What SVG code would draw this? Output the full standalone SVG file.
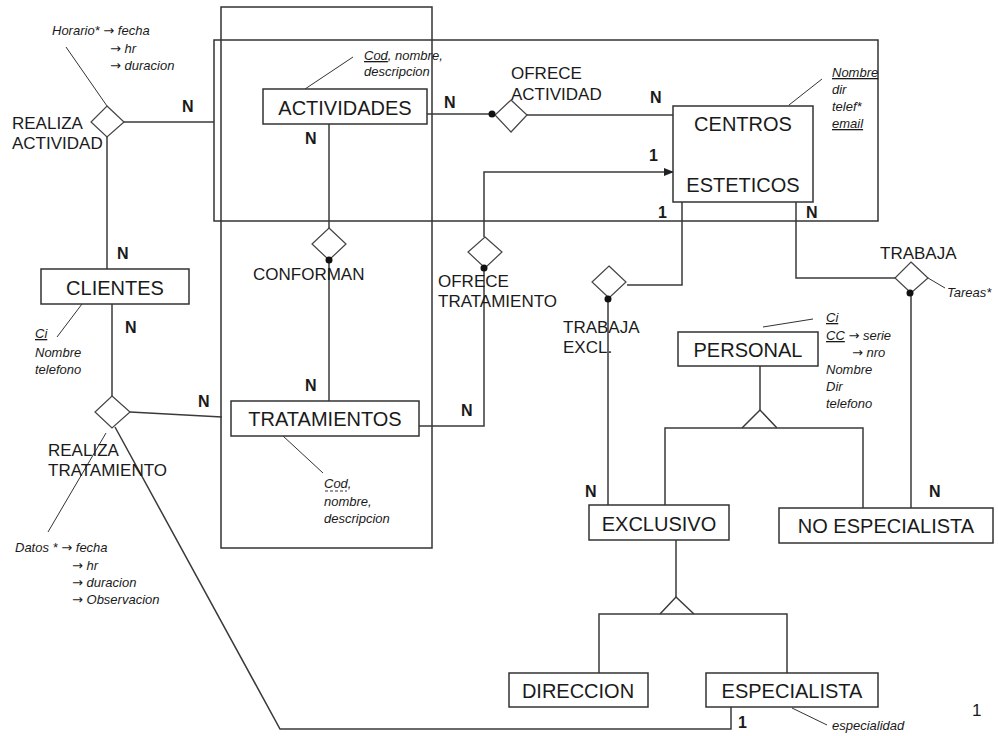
<svg xmlns="http://www.w3.org/2000/svg" width="998" height="736" viewBox="0 0 998 736">
<defs>
<style>
.bg{fill:#fff}
.box{fill:#fff;stroke:#333;stroke-width:1.5}
.frame{fill:none;stroke:#333;stroke-width:1.5}
.ln{fill:none;stroke:#3a3a3a;stroke-width:1.5}
.an{fill:none;stroke:#333;stroke-width:1}
.dia{fill:#fff;stroke:#444;stroke-width:1.2}
.dot{fill:#111}
text{font-family:"Liberation Sans",Arial,Helvetica,sans-serif;fill:#1a1a1a}
.en{font-size:20px;text-anchor:middle}
.rel{font-size:17px}
.att{font-size:13px;font-style:italic}
.ar{font-family:"DejaVu Sans",sans-serif;font-size:13px;font-style:normal}
.card{font-size:16px;font-weight:bold}
.u{text-decoration:underline}
</style>
<marker id="arr" markerWidth="10" markerHeight="8" refX="9" refY="4" orient="auto" markerUnits="userSpaceOnUse">
<path d="M0,0 L10,4 L0,8 z" fill="#222"/>
</marker>
</defs>
<rect class="bg" width="998" height="736"/>

<g id="frames">
<rect class="frame" x="221" y="7" width="211" height="541"/>
<rect class="frame" x="214" y="40" width="664" height="181"/>
</g>

<g id="connectors">
<line class="ln" x1="124" y1="122" x2="214" y2="122"/>
<line class="ln" x1="107" y1="137" x2="107" y2="269"/>
<line class="ln" x1="427" y1="114" x2="495" y2="114"/>
<line class="ln" x1="527" y1="115" x2="673" y2="115"/>
<line class="ln" x1="329" y1="124" x2="329" y2="228"/>
<line class="ln" x1="329" y1="260" x2="329" y2="401"/>
<polyline class="ln" points="484,237 484,172 673,172" marker-end="url(#arr)"/>
<polyline class="ln" points="484,268 484,426 419,426"/>
<polyline class="ln" points="682,202 682,285 627,285"/>
<line class="ln" x1="608" y1="299" x2="608" y2="505"/>
<polyline class="ln" points="796,202 796,278 895,278"/>
<line class="ln" x1="911" y1="293" x2="911" y2="508"/>
<line class="ln" x1="112" y1="304" x2="112" y2="396"/>
<line class="ln" x1="130" y1="412" x2="222" y2="417"/>
<polyline class="ln" points="115,427 280,729 731,729 731,707"/>
<line class="ln" x1="760" y1="366" x2="760" y2="410"/>
<polyline class="ln" points="742,428 760,410 777,428"/>
<polyline class="ln" points="665,505 665,428 863,428 863,508"/>
<line class="ln" x1="676" y1="540" x2="676" y2="597"/>
<polyline class="ln" points="660,614 676,597 694,614"/>
<polyline class="ln" points="599,673 599,614 787,614 787,673"/>
<line class="an" x1="66" y1="47" x2="107" y2="106"/>
<line class="an" x1="305" y1="89" x2="353" y2="57"/>
<line class="an" x1="789" y1="105" x2="822" y2="79"/>
<line class="an" x1="82" y1="304" x2="57" y2="337"/>
<line class="an" x1="283" y1="436" x2="323" y2="473"/>
<line class="an" x1="106" y1="433" x2="48" y2="532"/>
<line class="an" x1="763" y1="327" x2="813" y2="319"/>
<line class="an" x1="928" y1="278" x2="945" y2="288"/>
<line class="an" x1="792" y1="708" x2="827" y2="725"/>
</g>

<g id="realiza-actividad">
<polygon class="dia" points="107,106 124,122 107,137 91,122"/>
<text class="rel" x="12" y="129">REALIZA</text>
<text class="rel" x="12" y="149">ACTIVIDAD</text>
<text class="att" x="52" y="35">Horario* <tspan class="ar">→</tspan> fecha</text>
<text class="att" x="110" y="53"><tspan class="ar">→</tspan> hr</text>
<text class="att" x="110" y="70"><tspan class="ar">→</tspan> duracion</text>
</g>

<g id="actividades">
<rect class="box" x="263" y="89" width="164" height="35"/>
<text class="en" x="345" y="115">ACTIVIDADES</text>
<text class="att" x="364" y="60"><tspan class="u">Cod</tspan>, nombre,</text>
<text class="att" x="364" y="76">descripcion</text>
</g>

<g id="ofrece-actividad">
<polygon class="dia" points="511,100 527,115 511,132 495,115"/>
<circle class="dot" cx="492" cy="114" r="3.5"/>
<text class="rel" x="511" y="79">OFRECE</text>
<text class="rel" x="511" y="100">ACTIVIDAD</text>
</g>

<g id="centros-esteticos">
<rect class="box" x="673" y="106" width="140" height="96"/>
<text class="en" x="743" y="131">CENTROS</text>
<text class="en" x="743" y="192">ESTETICOS</text>
<text class="att" x="832" y="77"><tspan class="u">Nombre</tspan></text>
<text class="att" x="832" y="94">dir</text>
<text class="att" x="832" y="111">telef*</text>
<text class="att" x="832" y="128"><tspan class="u">email</tspan></text>
</g>

<g id="conforman">
<polygon class="dia" points="329,228 346,244 329,260 312,244"/>
<circle class="dot" cx="329" cy="260" r="3.5"/>
<text class="rel" x="253" y="280">CONFORMAN</text>
</g>

<g id="ofrece-tratamiento">
<polygon class="dia" points="485,237 502,252 485,268 468,252"/>
<circle class="dot" cx="484" cy="268" r="3.5"/>
<text class="rel" x="438" y="287">OFRECE</text>
<text class="rel" x="438" y="307">TRATAMIENTO</text>
</g>

<g id="trabaja-excl">
<polygon class="dia" points="609,266 626,282 609,298 592,282"/>
<circle class="dot" cx="608" cy="299" r="3.5"/>
<text class="rel" x="563" y="333">TRABAJA</text>
<text class="rel" x="563" y="353">EXCL.</text>
</g>

<g id="trabaja">
<polygon class="dia" points="911,262 928,278 911,293 895,278"/>
<circle class="dot" cx="910" cy="293" r="3.5"/>
<text class="rel" x="880" y="259">TRABAJA</text>
<text class="att" x="947" y="297">Tareas*</text>
</g>

<g id="clientes">
<rect class="box" x="41" y="269" width="148" height="35"/>
<text class="en" x="115" y="295">CLIENTES</text>
<text class="att" x="35" y="338"><tspan class="u">Ci</tspan></text>
<text class="att" x="35" y="357">Nombre</text>
<text class="att" x="35" y="374">telefono</text>
</g>

<g id="realiza-tratamiento">
<polygon class="dia" points="112,396 130,412 112,428 95,412"/>
<text class="rel" x="48" y="456">REALIZA</text>
<text class="rel" x="48" y="476">TRATAMIENTO</text>
<text class="att" x="15" y="552">Datos * <tspan class="ar">→</tspan> fecha</text>
<text class="att" x="72" y="570"><tspan class="ar">→</tspan> hr</text>
<text class="att" x="72" y="587"><tspan class="ar">→</tspan> duracion</text>
<text class="att" x="72" y="604"><tspan class="ar">→</tspan> Observacion</text>
</g>

<g id="tratamientos">
<rect class="box" x="231" y="401" width="188" height="35"/>
<text class="en" x="325" y="426">TRATAMIENTOS</text>
<text class="att" x="324" y="488">Cod,</text>
<line x1="325" y1="491" x2="347" y2="491" stroke="#333" stroke-width="1" stroke-dasharray="3,2"/>
<text class="att" x="324" y="506">nombre,</text>
<text class="att" x="324" y="523">descripcion</text>
</g>

<g id="personal">
<rect class="box" x="678" y="332" width="140" height="34"/>
<text class="en" x="748" y="357">PERSONAL</text>
<text class="att" x="826" y="322"><tspan class="u">Ci</tspan></text>
<text class="att" x="826" y="340"><tspan class="u">CC</tspan> <tspan class="ar">→</tspan> serie</text>
<text class="att" x="852" y="357"><tspan class="ar">→</tspan> nro</text>
<text class="att" x="826" y="374">Nombre</text>
<text class="att" x="826" y="391">Dir</text>
<text class="att" x="826" y="408">telefono</text>
</g>

<g id="exclusivo">
<rect class="box" x="589" y="505" width="140" height="35"/>
<text class="en" x="659" y="531">EXCLUSIVO</text>
</g>

<g id="no-especialista">
<rect class="box" x="779" y="508" width="214" height="35"/>
<text class="en" x="886" y="533">NO ESPECIALISTA</text>
</g>

<g id="direccion">
<rect class="box" x="509" y="673" width="139" height="34"/>
<text class="en" x="578" y="698">DIRECCION</text>
</g>

<g id="especialista">
<rect class="box" x="706" y="673" width="172" height="34"/>
<text class="en" x="792" y="698">ESPECIALISTA</text>
<text class="att" x="832" y="730">especialidad</text>
</g>

<g id="cardinalities">
<text class="card" x="182" y="112">N</text>
<text class="card" x="305" y="144">N</text>
<text class="card" x="444" y="108">N</text>
<text class="card" x="650" y="103">N</text>
<text class="card" x="649" y="161">1</text>
<text class="card" x="658" y="218">1</text>
<text class="card" x="806" y="218">N</text>
<text class="card" x="117" y="259">N</text>
<text class="card" x="125" y="333">N</text>
<text class="card" x="198" y="407">N</text>
<text class="card" x="305" y="391">N</text>
<text class="card" x="461" y="416">N</text>
<text class="card" x="585" y="497">N</text>
<text class="card" x="929" y="497">N</text>
<text class="card" x="738" y="728">1</text>
<text x="972" y="716" font-size="17">1</text>
</g>
</svg>
